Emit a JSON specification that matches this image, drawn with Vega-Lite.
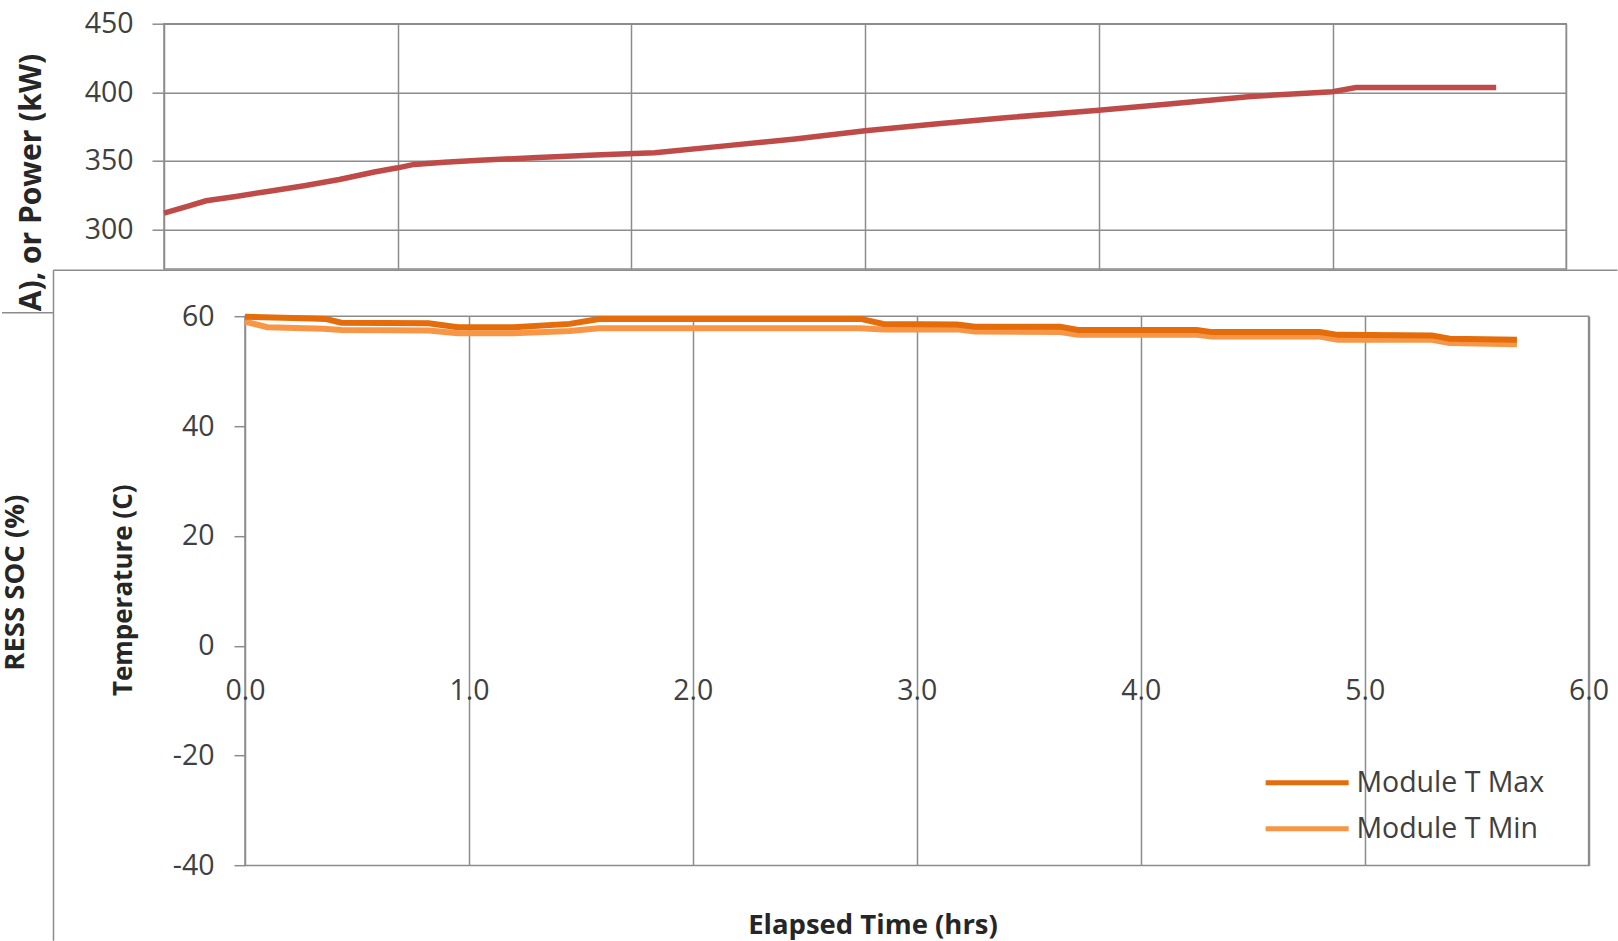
{
  "$schema": "https://vega.github.io/schema/vega-lite/v6.json",
  "autosize": {"type": "pad"},
  "padding": {"left": 0, "top": 8.7, "right": 0, "bottom": 0},
  "background": "white",
  "config": {
    "font": "Open Sans",
    "view": {"stroke": "#8c8c8c", "strokeWidth": 1.5},
    "axis": {
      "gridColor": "#8c8c8c", "gridWidth": 1.5, "gridOpacity": 1,
      "tickColor": "#8c8c8c", "tickWidth": 1.5,
      "labelFont": "Open Sans", "labelFontSize": 28.5, "labelColor": "#404040",
      "titleFont": "Open Sans", "titleFontSize": 26, "titleFontWeight": "bold", "titleColor": "#262626",
      "domain": false, "labelFlush": false, "labelOverlap": false
    }
  },
  "datasets": {
    "power": [
      {"t": 0.0, "p": 312}, {"t": 0.1, "p": 317}, {"t": 0.18, "p": 321}, {"t": 0.3, "p": 324},
      {"t": 0.45, "p": 328}, {"t": 0.6, "p": 332}, {"t": 0.75, "p": 336.5}, {"t": 0.9, "p": 342},
      {"t": 1.0, "p": 345}, {"t": 1.07, "p": 347.5}, {"t": 1.2, "p": 349}, {"t": 1.35, "p": 350.5},
      {"t": 1.6, "p": 352.5}, {"t": 1.87, "p": 354.5}, {"t": 2.1, "p": 356}, {"t": 2.4, "p": 361},
      {"t": 2.7, "p": 366}, {"t": 3.0, "p": 372}, {"t": 3.3, "p": 377}, {"t": 3.6, "p": 381.5},
      {"t": 4.0, "p": 387}, {"t": 4.3, "p": 391.5}, {"t": 4.65, "p": 397}, {"t": 5.0, "p": 400.5},
      {"t": 5.1, "p": 403.5}, {"t": 5.4, "p": 403.5}, {"t": 5.7, "p": 403.5}
    ],
    "temp": [
      {"t": 0.0, "v": 59.9, "s": "Module T Max"}, {"t": 0.3, "v": 59.6, "s": "Module T Max"},
      {"t": 0.36, "v": 59.5, "s": "Module T Max"}, {"t": 0.43, "v": 58.8, "s": "Module T Max"},
      {"t": 0.82, "v": 58.7, "s": "Module T Max"}, {"t": 0.95, "v": 58.0, "s": "Module T Max"},
      {"t": 1.2, "v": 58.0, "s": "Module T Max"}, {"t": 1.45, "v": 58.6, "s": "Module T Max"},
      {"t": 1.58, "v": 59.5, "s": "Module T Max"}, {"t": 2.75, "v": 59.5, "s": "Module T Max"},
      {"t": 2.85, "v": 58.6, "s": "Module T Max"}, {"t": 3.18, "v": 58.5, "s": "Module T Max"},
      {"t": 3.26, "v": 58.1, "s": "Module T Max"}, {"t": 3.64, "v": 58.1, "s": "Module T Max"},
      {"t": 3.72, "v": 57.5, "s": "Module T Max"}, {"t": 4.25, "v": 57.5, "s": "Module T Max"},
      {"t": 4.32, "v": 57.1, "s": "Module T Max"}, {"t": 4.8, "v": 57.1, "s": "Module T Max"},
      {"t": 4.88, "v": 56.6, "s": "Module T Max"}, {"t": 5.3, "v": 56.5, "s": "Module T Max"},
      {"t": 5.38, "v": 55.9, "s": "Module T Max"}, {"t": 5.68, "v": 55.7, "s": "Module T Max"},
      {"t": 0.0, "v": 59.0, "s": "Module T Min"}, {"t": 0.1, "v": 58.0, "s": "Module T Min"},
      {"t": 0.35, "v": 57.7, "s": "Module T Min"}, {"t": 0.43, "v": 57.5, "s": "Module T Min"},
      {"t": 0.82, "v": 57.4, "s": "Module T Min"}, {"t": 0.95, "v": 56.9, "s": "Module T Min"},
      {"t": 1.2, "v": 56.9, "s": "Module T Min"}, {"t": 1.45, "v": 57.3, "s": "Module T Min"},
      {"t": 1.58, "v": 57.8, "s": "Module T Min"}, {"t": 2.75, "v": 57.8, "s": "Module T Min"},
      {"t": 2.85, "v": 57.6, "s": "Module T Min"}, {"t": 3.18, "v": 57.6, "s": "Module T Min"},
      {"t": 3.26, "v": 57.2, "s": "Module T Min"}, {"t": 3.64, "v": 57.1, "s": "Module T Min"},
      {"t": 3.72, "v": 56.6, "s": "Module T Min"}, {"t": 4.25, "v": 56.6, "s": "Module T Min"},
      {"t": 4.32, "v": 56.3, "s": "Module T Min"}, {"t": 4.8, "v": 56.3, "s": "Module T Min"},
      {"t": 4.88, "v": 55.7, "s": "Module T Min"}, {"t": 5.3, "v": 55.7, "s": "Module T Min"},
      {"t": 5.38, "v": 55.1, "s": "Module T Min"}, {"t": 5.68, "v": 54.9, "s": "Module T Min"}
    ]
  },
  "spacing": 46.5,
  "bounds": "flush",
  "vconcat": [
    {
      "width": 1402.3,
      "height": 245.3,
      "data": {"name": "power"},
      "mark": {"type": "line", "color": "#BE4B48", "strokeWidth": 5.5},
      "encoding": {
        "x": {"field": "t", "type": "quantitative",
          "scale": {"domain": [0, 6], "nice": false, "zero": false},
          "axis": {"values": [0, 1, 2, 3, 4, 5, 6], "labels": false, "ticks": false, "title": null, "grid": true}},
        "y": {"field": "p", "type": "quantitative",
          "scale": {"domain": [271.3, 450], "nice": false, "zero": false},
          "axis": {"values": [300, 350, 400, 450], "tickSize": 12, "labelPadding": 19,
            "title": "A), or Power (kW)", "titleFontSize": 30, "titleX": -132.3, "titleY": 287,
            "titleAlign": "left", "titleBaseline": "middle", "titleAngle": -90}}
      }
    },
    {
      "spacing": 0,
      "bounds": "flush",
      "hconcat": [
        {
          "width": 80.2,
          "height": 549.2,
          "view": {"stroke": null},
          "data": {"values": [{"s": 0}]},
          "mark": {"type": "point", "opacity": 0},
          "encoding": {
            "y": {"field": "s", "type": "quantitative", "scale": {"domain": [0, 100]},
              "axis": {"title": "RESS SOC (%)", "titleFontSize": 27.5, "labels": false, "ticks": false, "grid": false,
                "titleX": -148.6, "titleY": 266, "titleAlign": "center", "titleBaseline": "middle", "titleAngle": -90}}
          }
        },
        {
          "width": 1343.6,
          "height": 549.2,
          "layer": [
            {
              "data": {"values": [{}]},
              "mark": {"type": "rule", "color": "#8c8c8c", "strokeWidth": 1.5},
              "encoding": {
                "x": {"datum": -0.8564, "type": "quantitative", "scale": {"domain": [0, 6], "nice": false, "zero": false}},
                "x2": {"datum": 6.129},
                "y": {"datum": 68.38, "type": "quantitative", "scale": {"domain": [-40, 60], "nice": false, "zero": false}}
              }
            },
            {
              "data": {"values": [{}]},
              "mark": {"type": "rule", "color": "#8c8c8c", "strokeWidth": 1.5},
              "encoding": {
                "x": {"datum": -0.8552, "type": "quantitative"},
                "y": {"datum": 68.38, "type": "quantitative"},
                "y2": {"datum": -53.71}
              }
            },
            {
              "data": {"values": [{}]},
              "mark": {"type": "rule", "color": "#8c8c8c", "strokeWidth": 1.5},
              "encoding": {
                "x": {"datum": -1.0852, "type": "quantitative"},
                "x2": {"datum": -0.8552},
                "y": {"datum": 60.64, "type": "quantitative"}
              }
            },
            {
              "data": {"name": "temp"},
              "transform": [{"filter": "datum.s === 'Module T Min'"}],
              "mark": {"type": "line", "strokeWidth": 6},
              "encoding": {
                "x": {"field": "t", "type": "quantitative"},
                "y": {"field": "v", "type": "quantitative"},
                "color": {"field": "s", "type": "nominal",
                  "scale": {"domain": ["Module T Max", "Module T Min"], "range": ["#E46C0A", "#F79646"]}}
              }
            },
            {
              "data": {"name": "temp"},
              "transform": [{"filter": "datum.s === 'Module T Max'"}],
              "mark": {"type": "line", "strokeWidth": 6},
              "encoding": {
                "x": {"field": "t", "type": "quantitative",
                  "scale": {"domain": [0, 6], "nice": false, "zero": false},
                  "axis": {"values": [0, 1, 2, 3, 4, 5, 6], "format": ".1f", "grid": true, "ticks": false, "tickSize": 0,
                    "labelPadding": 45.4, "labelBaseline": "middle", "offset": -219.8,
                    "title": "Elapsed Time (hrs)", "titleFontSize": 27.5, "titleX": 627.5, "titleY": 279.6, "titleBaseline": "middle", "titleAlign": "center"}},
                "y": {"field": "v", "type": "quantitative",
                  "scale": {"domain": [-40, 60], "nice": false, "zero": false},
                  "axis": {"values": [-40, -20, 0, 20, 40, 60], "tickSize": 11, "labelPadding": 20,
                    "labelExpr": "datum.value < 0 ? '-' + abs(datum.value) : '' + datum.value",
                    "title": "Temperature (C)", "titleX": -121.5, "titleY": 273.6, "titleAlign": "center", "titleBaseline": "middle", "titleAngle": -90}},
                "color": {"field": "s", "type": "nominal",
                  "scale": {"domain": ["Module T Max", "Module T Min"], "range": ["#E46C0A", "#F79646"]},
                  "legend": {"orient": "none", "legendX": 1128.9, "legendY": 744.8, "title": null,
                    "symbolType": "M-4,0H4", "symbolSize": 430.6, "symbolStrokeWidth": 5,
                    "labelOffset": 35, "labelFontSize": 28.5, "labelColor": "#404040", "labelFont": "Open Sans", "labelLimit": 0,
                    "rowPadding": 17, "padding": 0}}
              }
            }
          ]
        }
      ]
    }
  ]
}
